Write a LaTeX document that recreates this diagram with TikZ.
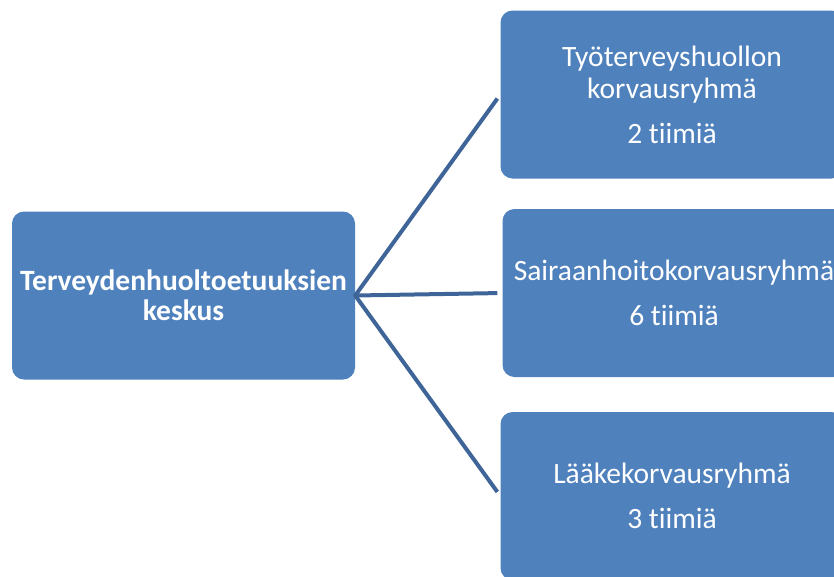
\documentclass[tikz,border=0pt]{standalone}
\usepackage{fontspec}
\setmainfont[Ligatures=NoCommon]{Carlito}
\usetikzlibrary{positioning,calc}
\definecolor{boxblue}{HTML}{4F81BD}
\definecolor{lineblue}{HTML}{3F6598}

\begin{document}
\begin{tikzpicture}[x=1pt,y=-1pt,every node/.style={fill=boxblue,rounded corners=12pt,minimum width=343pt,minimum height=168pt,text=white,align=center,font=\fontsize{29.5}{32}\selectfont}]

\clip (0,0) rectangle (834,576);

\node(keskus) at (183.5,295.5) {\textbf{Terveydenhuoltoetuuksien}\\[-2pt]\textbf{keskus}};
\node(tyo) at (672,94.5) {Työterveyshuollon\\korvausryhmä\\[13pt]2 tiimiä};
\node(sairaan) at (674,293) {Sairaanhoitokorvausryhmä\\[13pt]6 tiimiä};
\node(laake) at (672,496) {Lääkekorvausryhmä\\[13pt]3 tiimiä};

\foreach \y in {tyo,sairaan,laake}{
	\draw[line width=4pt,color=lineblue,shorten <=-1pt,shorten >=5pt](keskus.east)to(\y.west);
}
\end{tikzpicture}
\end{document}
